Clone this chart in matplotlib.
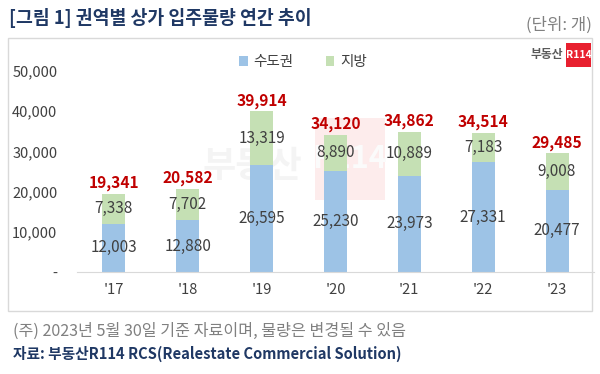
import matplotlib.pyplot as plt
from matplotlib.patches import Rectangle
from matplotlib.ticker import FuncFormatter
import numpy as np

plt.rcParams['font.family'] = ['Noto Sans CJK KR', 'DejaVu Sans']

years = ["'17", "'18", "'19", "'20", "'21", "'22", "'23"]
capital = [12003, 12880, 26595, 25230, 23973, 27331, 20477]
regional = [7338, 7702, 13319, 8890, 10889, 7183, 9008]
totals = [19341, 20582, 39914, 34120, 34862, 34514, 29485]

blue = '#9dc3e6'
green = '#c5e0b4'

fig = plt.figure(figsize=(6, 3.74), dpi=100)

# panel frame
fig.patches.append(Rectangle((0.0133, 0.168), 0.973, 0.730, transform=fig.transFigure,
                             facecolor='white', edgecolor='#d9d9d9', lw=1, zorder=-2))

# faint watermark
fig.patches.append(Rectangle((0.525, 0.465), 0.117, 0.219, transform=fig.transFigure,
                             facecolor='#fdecec', edgecolor='none', zorder=-1))
fig.text(0.42, 0.555, '부동산', ha='center', va='center', fontsize=26,
         fontweight='bold', color='#f4f4f4', zorder=-1)
fig.text(0.583, 0.575, 'R114', ha='center', va='center', fontsize=22,
         fontweight='bold', color='#fbfbfb', zorder=-1)

ax = fig.add_axes([0.128, 0.273, 0.862, 0.591])
ax.set_zorder(1)
x = np.arange(len(years))
w = 0.31
b1 = ax.bar(x, capital, w, color=blue, label='수도권', zorder=2)
b2 = ax.bar(x, regional, w, bottom=capital, color=green, label='지방', zorder=2)

for i in range(len(years)):
    ax.text(x[i], capital[i] / 2, f'{capital[i]:,}', ha='center', va='center',
            fontsize=11, color='#404040', zorder=3)
    ax.text(x[i], capital[i] + regional[i] / 2, f'{regional[i]:,}', ha='center', va='center',
            fontsize=11, color='#404040', zorder=3)
    ax.annotate(f'{totals[i]:,}', (x[i], capital[i] + regional[i]), xytext=(0, 2),
                textcoords='offset points', ha='center', va='bottom',
                fontsize=11.2, fontweight='bold', color='#c00000', zorder=3)

ax.set_xlim(-0.5, len(years) - 0.5)
ax.set_ylim(0, 55000)
ax.set_yticks([0, 10000, 20000, 30000, 40000, 50000])
ax.yaxis.set_major_formatter(FuncFormatter(lambda v, p: '-' if v == 0 else f'{int(v):,}'))
ax.set_xticks(x)
ax.set_xticklabels(years)
ax.tick_params(axis='both', length=0, labelsize=10.5, colors='#404040')
ax.tick_params(axis='y', pad=14)
ax.tick_params(axis='x', pad=8)
for s in ['top', 'right', 'left']:
    ax.spines[s].set_visible(False)
ax.spines['bottom'].set_color('#d9d9d9')
ax.patch.set_alpha(0)

fig.legend(handles=[b1, b2], loc='center', bbox_to_anchor=(0.505, 0.834), ncol=2,
           frameon=False, fontsize=10.5, handlelength=0.6, handleheight=0.6,
           columnspacing=2.2, handletextpad=0.4, labelcolor='#404040')

# logo
fig.text(0.938, 0.853, '부동산', ha='right', va='center', fontsize=8.5,
         fontweight='bold', color='#595959')
fig.patches.append(Rectangle((0.943, 0.821), 0.042, 0.064, transform=fig.transFigure,
                             facecolor='#e8202f', edgecolor='none'))
fig.text(0.964, 0.853, 'R114', ha='center', va='center', fontsize=7.5,
         fontweight='bold', color='white')

fig.text(0.015, 0.952, '[그림 1] 권역별 상가 입주물량 연간 추이', ha='left', va='center',
         fontsize=13.2, fontweight='bold', color='#1f3864')
fig.text(0.987, 0.932, '(단위: 개)', ha='right', va='center', fontsize=12, color='#808080')

fig.text(0.022, 0.115, '(주) 2023년 5월 30일 기준 자료이며, 물량은 변경될 수 있음', ha='left',
         va='center', fontsize=11.6, color='#808080')
fig.text(0.022, 0.053, '자료: 부동산R114 RCS(Realestate Commercial Solution)', ha='left',
         va='center', fontsize=10.6, fontweight='bold', color='#1f3864')

fig.savefig('out.png', dpi=100)
